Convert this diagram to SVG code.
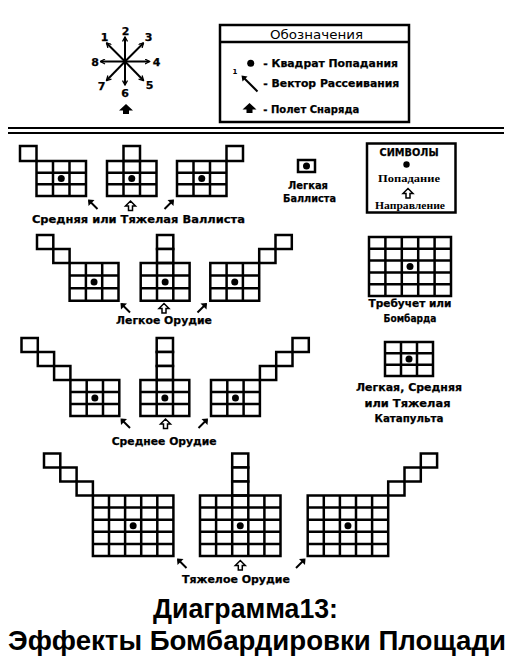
<svg xmlns="http://www.w3.org/2000/svg" xmlns:xlink="http://www.w3.org/1999/xlink" width="513" height="670" viewBox="0 0 513 670">
<style>
.gr{fill:none;stroke:#000;stroke-width:2.5}
.cell{fill:#fff;stroke:#000;stroke-width:2.5}
.dot{fill:#000}
.lbl{font-family:"DejaVu Sans",sans-serif;font-weight:bold;font-size:11px;fill:#000;text-anchor:middle;stroke:#000;stroke-width:0.25}
.lgs{font-family:"DejaVu Sans",sans-serif;font-weight:bold;font-size:11px;fill:#000;stroke:#000;stroke-width:0.25}
.ser{font-family:"Liberation Serif",serif;font-weight:bold;font-size:10px;fill:#000;text-anchor:middle}
.ttl{font-family:"Liberation Sans",Arial,sans-serif;font-weight:bold;font-size:28px;fill:#000}
.cl{stroke:#000;stroke-width:2;fill:none}
</style>
<defs>
<marker id="ch" viewBox="0 0 6 6" refX="5" refY="3" markerWidth="6" markerHeight="6" orient="auto" markerUnits="userSpaceOnUse"><path d="M0.5,0.5 L5,3 L0.5,5.5" fill="none" stroke="#000" stroke-width="1.3"/></marker>
<g id="nw"><path d="M1,1 L9.5,9.5" stroke="#000" stroke-width="2"/><path d="M0,0 L6.5,0.5 L0.5,6.5 Z" fill="#000"/></g>
<g id="ne"><path d="M8.5,1 L0,9.5" stroke="#000" stroke-width="2"/><path d="M9.5,0 L3,0.5 L9,6.5 Z" fill="#000"/></g>
<path id="up" d="M5,0.5 L10,5.5 L7,5.5 L7,10 L3,10 L3,5.5 L0,5.5 Z" fill="#fff" stroke="#000" stroke-width="1.5" stroke-linejoin="miter"/>
<path id="upf" d="M7,0 L14,6.5 L10,6.5 L10,10 L4,10 L4,6.5 L0,6.5 Z" fill="#000"/>
</defs>
<rect width="513" height="670" fill="#fff"/>

<g id="compass">
<g class="cl" marker-end="url(#ch)">
<line x1="125" y1="61.5" x2="125" y2="37"/>
<line x1="125" y1="61.5" x2="125" y2="85"/>
<line x1="125" y1="61.5" x2="149.5" y2="61.5"/>
<line x1="125" y1="61.5" x2="100.5" y2="61.5"/>
<line x1="125" y1="61.5" x2="106.5" y2="43"/>
<line x1="125" y1="61.5" x2="143.5" y2="43"/>
<line x1="125" y1="61.5" x2="106.5" y2="80.5"/>
<line x1="125" y1="61.5" x2="143.5" y2="80.5"/>
</g>
<text class="lbl" x="125.5" y="35">2</text>
<text class="lbl" x="104.5" y="41">1</text>
<text class="lbl" x="148.5" y="41">3</text>
<text class="lbl" x="95" y="65.5">8</text>
<text class="lbl" x="156.5" y="65.5">4</text>
<text class="lbl" x="101.5" y="90">7</text>
<text class="lbl" x="125" y="96.5">6</text>
<text class="lbl" x="149.5" y="88.5">5</text>
<use xlink:href="#upf" x="119" y="104"/>
</g>

<g id="legend">
<rect x="220" y="25" width="189" height="97" fill="#fff" stroke="#000" stroke-width="2.5"/>
<line x1="220" y1="42" x2="409" y2="42" stroke="#000" stroke-width="2.5"/>
<text x="316.5" y="38.5" font-family="DejaVu Sans,sans-serif" font-size="13" text-anchor="middle" textLength="93" lengthAdjust="spacingAndGlyphs">Обозначения</text>
<circle class="dot" cx="250.7" cy="63.3" r="3.5"/>
<text class="lgs" x="263.3" y="66.5" textLength="134.7" lengthAdjust="spacingAndGlyphs">- Квадрат Попадания</text>
<line x1="243" y1="77" x2="257.5" y2="91.5" stroke="#000" stroke-width="2"/>
<path d="M241.5,75.5 L247.5,76.5 L242.5,81.5 Z" fill="#000"/>
<text x="235" y="74" font-family="DejaVu Sans,sans-serif" font-weight="bold" font-size="7" text-anchor="middle">1</text>
<text class="lgs" x="263.3" y="86.5" textLength="136" lengthAdjust="spacingAndGlyphs">- Вектор Рассеивания</text>
<use xlink:href="#upf" x="242.5" y="103"/>
<text class="lgs" x="263.3" y="113" textLength="96" lengthAdjust="spacingAndGlyphs">- Полет Снаряда</text>
</g>

<g id="separator">
<line x1="8" y1="128" x2="504" y2="128" stroke="#000" stroke-width="2"/>
<line x1="8" y1="133" x2="504" y2="133" stroke="#000" stroke-width="2"/>
</g>

<g id="ballista-medium-heavy">
<rect class="cell" x="20" y="146" width="16.5" height="15"/>
<path class="gr" d="M36.5,161 H86 V196 H36.5 Z M53,161 V196 M69.5,161 V196 M36.5,172.7 H86 M36.5,184.3 H86"/>
<circle class="dot" cx="61.25" cy="178.5" r="3.5"/>
<rect class="cell" x="123.5" y="146" width="16.5" height="15"/>
<path class="gr" d="M107,161 H156.5 V196 H107 Z M123.5,161 V196 M140,161 V196 M107,172.7 H156.5 M107,184.3 H156.5"/>
<circle class="dot" cx="131.75" cy="178.5" r="3.5"/>
<rect class="cell" x="226.5" y="146" width="16.5" height="15"/>
<path class="gr" d="M177,161 H226.5 V196 H177 Z M193.5,161 V196 M210,161 V196 M177,172.7 H226.5 M177,184.3 H226.5"/>
<circle class="dot" cx="201.75" cy="178.5" r="3.5"/>
<use xlink:href="#nw" x="88" y="199.5"/>
<use xlink:href="#up" x="125.5" y="200.5"/>
<use xlink:href="#ne" x="164.5" y="199.5"/>
<text class="lbl" x="138.4" y="223" textLength="213" lengthAdjust="spacingAndGlyphs">Средняя или Тяжелая Валлиста</text>
</g>

<g id="light-ballista">
<rect class="cell" x="298" y="160" width="17" height="12"/>
<circle class="dot" cx="306.5" cy="166" r="3.5"/>
<text class="lbl" x="308" y="189" textLength="40" lengthAdjust="spacingAndGlyphs">Легкая</text>
<text class="lbl" x="309.5" y="201.5" textLength="53" lengthAdjust="spacingAndGlyphs">Баллиста</text>
</g>

<g id="symbols">
<rect x="367" y="143.5" width="88.5" height="69" fill="#fff" stroke="#000" stroke-width="2.5"/>
<text class="lbl" x="409" y="155.5" textLength="59" lengthAdjust="spacingAndGlyphs">СИМВОЛЫ</text>
<circle class="dot" cx="406.5" cy="164.5" r="3.2"/>
<text class="ser" x="409" y="182" textLength="62" lengthAdjust="spacingAndGlyphs">Попадание</text>
<use xlink:href="#up" x="403" y="188"/>
<text class="ser" x="410" y="209" textLength="70" lengthAdjust="spacingAndGlyphs">Направление</text>
</g>

<g id="light-gun">
<rect class="cell" x="37" y="235" width="16.3" height="14"/>
<rect class="cell" x="53.3" y="249" width="16.3" height="14"/>
<path class="gr" d="M69.6,263 H118.5 V300.8 H69.6 Z M85.9,263 V300.8 M102.2,263 V300.8 M69.6,275.6 H118.5 M69.6,288.2 H118.5"/>
<circle class="dot" cx="94.05" cy="281.9" r="3.5"/>
<rect class="cell" x="157" y="235" width="16.3" height="14"/>
<rect class="cell" x="157" y="249" width="16.3" height="14"/>
<path class="gr" d="M140.7,263 H189.6 V300.8 H140.7 Z M157,263 V300.8 M173.3,263 V300.8 M140.7,275.6 H189.6 M140.7,288.2 H189.6"/>
<circle class="dot" cx="165.15" cy="281.9" r="3.5"/>
<rect class="cell" x="259.2" y="249" width="16.3" height="14"/>
<rect class="cell" x="275.5" y="235" width="16.3" height="14"/>
<path class="gr" d="M210.3,263 H259.2 V300.8 H210.3 Z M226.6,263 V300.8 M242.9,263 V300.8 M210.3,275.6 H259.2 M210.3,288.2 H259.2"/>
<circle class="dot" cx="234.75" cy="281.9" r="3.5"/>
<use xlink:href="#nw" x="120.5" y="303"/>
<use xlink:href="#up" x="159" y="303"/>
<use xlink:href="#ne" x="197.5" y="303"/>
<text class="lbl" x="164" y="324" textLength="96" lengthAdjust="spacingAndGlyphs">Легкое Орудие</text>
</g>

<g id="trebuchet">
<path class="gr" d="M369,237 H451 V296 H369 Z M385.4,237 V296 M401.8,237 V296 M418.2,237 V296 M434.6,237 V296 M369,248.8 H451 M369,260.6 H451 M369,272.4 H451 M369,284.2 H451"/>
<circle class="dot" cx="410" cy="266.5" r="3.5"/>
<text class="lbl" x="410" y="306.5" textLength="83" lengthAdjust="spacingAndGlyphs">Требучет или</text>
<text class="lbl" x="410" y="322" textLength="53" lengthAdjust="spacingAndGlyphs">Бомбарда</text>
</g>

<g id="medium-gun">
<rect class="cell" x="21.5" y="338" width="16.3" height="14"/>
<rect class="cell" x="37.8" y="352" width="16.3" height="14"/>
<rect class="cell" x="54.1" y="366" width="16.3" height="14"/>
<path class="gr" d="M70.4,380 H119.3 V416 H70.4 Z M86.7,380 V416 M103,380 V416 M70.4,392 H119.3 M70.4,404 H119.3"/>
<circle class="dot" cx="94.85" cy="398" r="3.5"/>
<rect class="cell" x="156.7" y="338" width="16.3" height="14"/>
<rect class="cell" x="156.7" y="352" width="16.3" height="14"/>
<rect class="cell" x="156.7" y="366" width="16.3" height="14"/>
<path class="gr" d="M140.4,380 H189.3 V416 H140.4 Z M156.7,380 V416 M173,380 V416 M140.4,392 H189.3 M140.4,404 H189.3"/>
<circle class="dot" cx="164.85" cy="398" r="3.5"/>
<rect class="cell" x="259.9" y="366" width="16.3" height="14"/>
<rect class="cell" x="276.2" y="352" width="16.3" height="14"/>
<rect class="cell" x="292.5" y="338" width="16.3" height="14"/>
<path class="gr" d="M211,380 H259.9 V416 H211 Z M227.3,380 V416 M243.6,380 V416 M211,392 H259.9 M211,404 H259.9"/>
<circle class="dot" cx="235.45" cy="398" r="3.5"/>
<use xlink:href="#nw" x="120.5" y="418.5"/>
<use xlink:href="#up" x="160.5" y="418.5"/>
<use xlink:href="#ne" x="198.5" y="418.5"/>
<text class="lbl" x="164.2" y="445" textLength="105" lengthAdjust="spacingAndGlyphs">Среднее Орудие</text>
</g>

<g id="catapult">
<path class="gr" d="M385,342 H433 V376 H385 Z M401,342 V376 M417,342 V376 M385,353.3 H433 M385,364.7 H433"/>
<circle class="dot" cx="409" cy="359" r="3.5"/>
<text class="lbl" x="409" y="391" textLength="106" lengthAdjust="spacingAndGlyphs">Легкая, Средняя</text>
<text class="lbl" x="407.5" y="406.5" textLength="86" lengthAdjust="spacingAndGlyphs">или Тяжелая</text>
<text class="lbl" x="409" y="421.5" textLength="69" lengthAdjust="spacingAndGlyphs">Катапульта</text>
</g>

<g id="heavy-gun">
<rect class="cell" x="44" y="453.5" width="16.3" height="14"/>
<rect class="cell" x="60.3" y="467.5" width="16.3" height="14"/>
<rect class="cell" x="76.6" y="481.5" width="16.3" height="14"/>
<path class="gr" d="M92.9,495.5 H173.4 V556 H92.9 Z M109,495.5 V556 M125.1,495.5 V556 M141.2,495.5 V556 M157.3,495.5 V556 M92.9,507.6 H173.4 M92.9,519.7 H173.4 M92.9,531.8 H173.4 M92.9,543.9 H173.4"/>
<circle class="dot" cx="133.15" cy="525.75" r="3.5"/>
<rect class="cell" x="232.2" y="453.5" width="16.1" height="14"/>
<rect class="cell" x="232.2" y="467.5" width="16.1" height="14"/>
<rect class="cell" x="232.2" y="481.5" width="16.1" height="14"/>
<path class="gr" d="M200,495.5 H280.5 V556 H200 Z M216.1,495.5 V556 M232.2,495.5 V556 M248.3,495.5 V556 M264.4,495.5 V556 M200,507.6 H280.5 M200,519.7 H280.5 M200,531.8 H280.5 M200,543.9 H280.5"/>
<circle class="dot" cx="240.25" cy="525.75" r="3.5"/>
<rect class="cell" x="388.2" y="481.5" width="16.3" height="14"/>
<rect class="cell" x="404.5" y="467.5" width="16.3" height="14"/>
<rect class="cell" x="420.8" y="453.5" width="16.3" height="14"/>
<path class="gr" d="M307.7,495.5 H388.2 V556 H307.7 Z M323.8,495.5 V556 M339.9,495.5 V556 M356,495.5 V556 M372.1,495.5 V556 M307.7,507.6 H388.2 M307.7,519.7 H388.2 M307.7,531.8 H388.2 M307.7,543.9 H388.2"/>
<circle class="dot" cx="347.95" cy="525.75" r="3.5"/>
<use xlink:href="#nw" x="177" y="558.5"/>
<use xlink:href="#up" x="235.3" y="560"/>
<use xlink:href="#ne" x="296" y="558.5"/>
<text class="lbl" x="236" y="583" textLength="108" lengthAdjust="spacingAndGlyphs">Тяжелое Орудие</text>
</g>

<g id="title">
<text class="ttl" x="153" y="618" textLength="185" lengthAdjust="spacingAndGlyphs">Диаграмма13:</text>
<text class="ttl" x="8" y="650" textLength="498" lengthAdjust="spacingAndGlyphs">Эффекты Бомбардировки Площади</text>
</g>
</svg>
